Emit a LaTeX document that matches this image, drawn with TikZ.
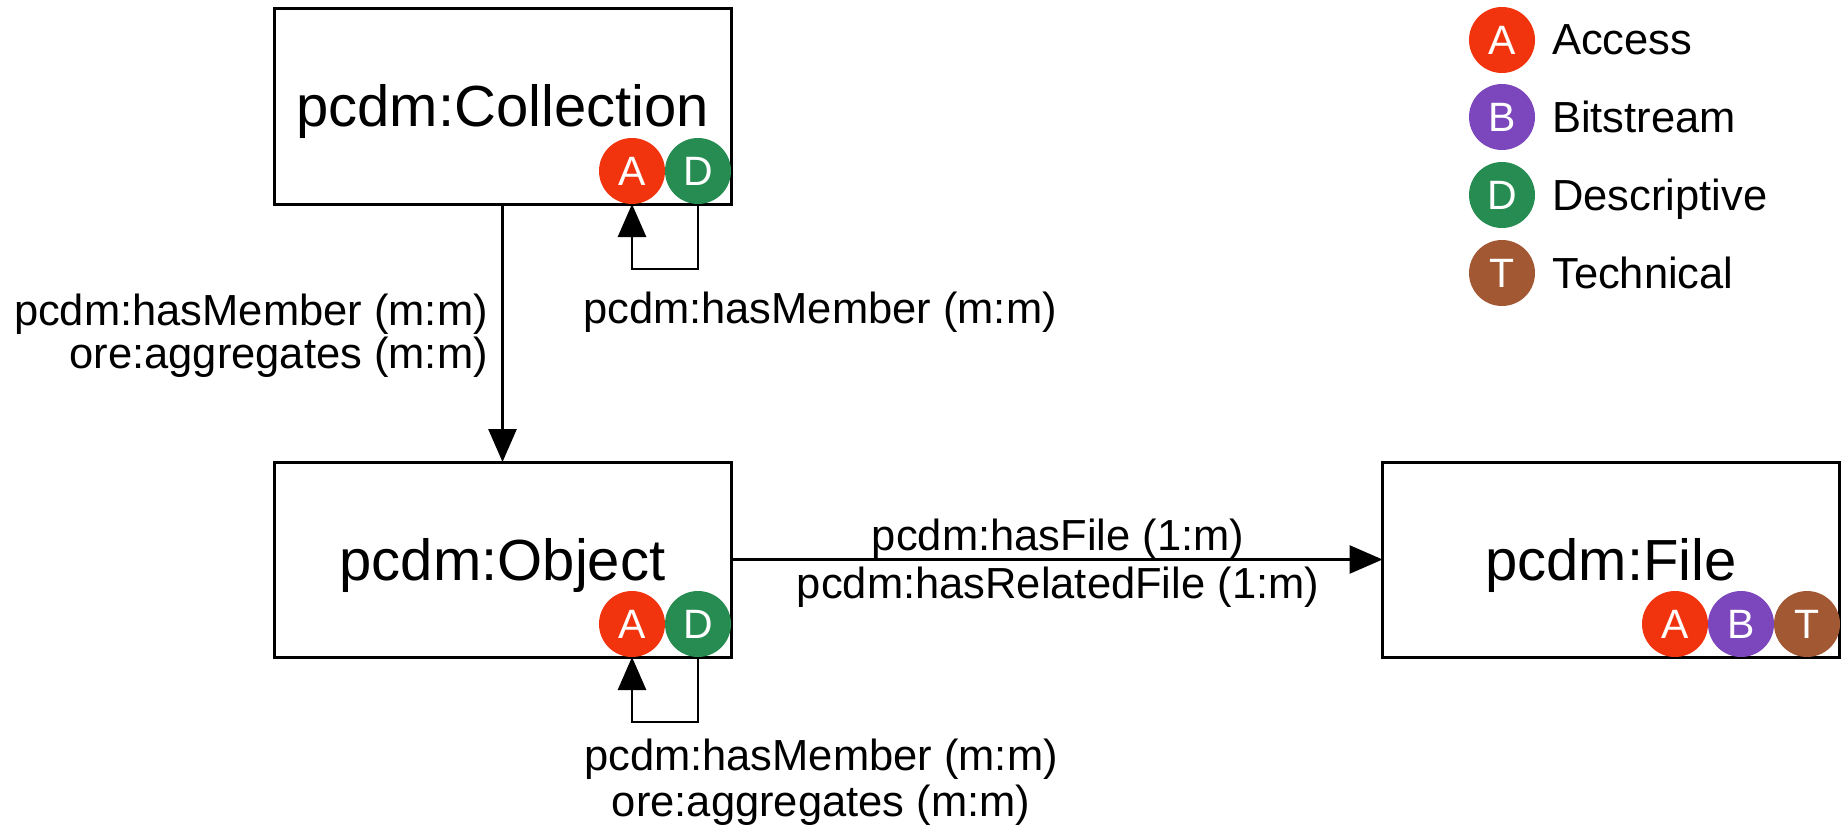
\documentclass[tikz,border=0pt]{standalone}
\usepackage{fontspec}
\setmainfont{Liberation Sans}
\usetikzlibrary{arrows.meta}
\definecolor{cA}{RGB}{242,52,14}
\definecolor{cB}{RGB}{124,70,188}
\definecolor{cD}{RGB}{38,140,82}
\definecolor{cT}{RGB}{163,88,52}
\begin{document}
\begin{tikzpicture}[x=1pt,y=-1pt,
  box/.style={draw, line width=3pt, minimum width=457pt, minimum height=195pt,
    inner sep=0pt, outer sep=0pt, font=\fontsize{58}{60}\selectfont,
    text height=41pt, text depth=0pt},
  lbl/.style={font=\fontsize{43.5}{45}\selectfont, inner sep=0pt},
  badge/.style={circle, minimum size=66pt, inner sep=0pt, outer sep=0pt,
    text=white, font=\fontsize{41}{41}\selectfont},
  conn/.style={line width=2.8pt},
  arr/.style={conn, -{Triangle[length=33pt,width=28pt]}}]
\useasboundingbox (0,0) rectangle (1843,832);

% boxes
\node[box] (col) at (502.5,106.5) {pcdm:Collection};
\node[box] (obj) at (502.5,559.5) {pcdm:Object};
\node[box] (fil) at (1611,559.5) {pcdm:File};

% badges
\node[badge, fill=cA] (colA) at (632,171) {A};
\node[badge, fill=cD] (colD) at (698,171) {D};
\node[badge, fill=cA] (objA) at (632,624) {A};
\node[badge, fill=cD] (objD) at (698,624) {D};
\node[badge, fill=cA] (filA) at (1675,624) {A};
\node[badge, fill=cB] (filB) at (1741,624) {B};
\node[badge, fill=cT] (filT) at (1807,624) {T};

% legend
\node[badge, fill=cA] (legA) at (1502,40) {A};
\node[badge, fill=cB] (legB) at (1502,117) {B};
\node[badge, fill=cD] (legD) at (1502,195) {D};
\node[badge, fill=cT] (legT) at (1502,273) {T};
\node[lbl, anchor=base west] (legAt) at (1552,55) {Access};
\node[lbl, anchor=base west] (legBt) at (1552,132) {Bitstream};
\node[lbl, anchor=base west] (legDt) at (1552,210) {Descriptive};
\node[lbl, anchor=base west] (legTt) at (1552,288) {Technical};

% connectors
\draw[arr] (col.south) -- (obj.north);
\draw[arr] (obj.east) -- (fil.west);
\draw[arr] (colD.south) -- ++(0,65) -| (colA.south);
\draw[arr] (objD.south) -- ++(0,65) -| (objA.south);

% connector labels
\node[lbl, anchor=base east] (l1a) at (488,325) {pcdm:hasMember (m:m)};
\node[lbl, anchor=base east] (l1b) at (488,368) {ore:aggregates (m:m)};
\node[lbl, anchor=base] (l2) at (820,323) {pcdm:hasMember (m:m)};
\node[lbl, anchor=base] (l3a) at (1058,550) {pcdm:hasFile (1:m)};
\node[lbl, anchor=base] (l3b) at (1058,598) {pcdm:hasRelatedFile (1:m)};
\node[lbl, anchor=base] (l4a) at (821,770) {pcdm:hasMember (m:m)};
\node[lbl, anchor=base] (l4b) at (821,816) {ore:aggregates (m:m)};
\end{tikzpicture}
\end{document}
